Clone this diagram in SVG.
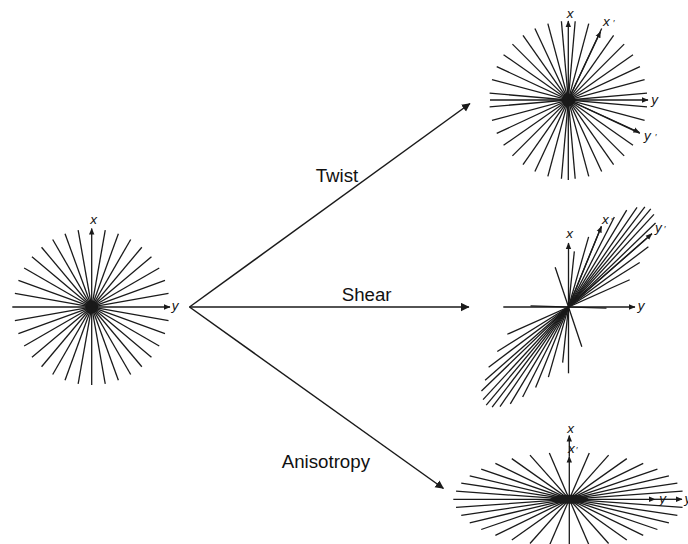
<svg xmlns="http://www.w3.org/2000/svg" width="688" height="544" viewBox="0 0 688 544">
<style>
.sp{stroke:#1a1a1a;stroke-width:1.3;fill:none}
.ax{stroke:#1a1a1a;stroke-width:1.3;fill:none;marker-end:url(#axh)}
.cn{stroke:#1a1a1a;stroke-width:1.5;fill:none;marker-end:url(#ch)}
.lbl{font-family:"Liberation Sans",Arial,sans-serif;font-size:18.7px;fill:#111}
.al{font-family:"Liberation Sans",Arial,sans-serif;font-size:13.5px;font-style:italic;fill:#111}
.dot{fill:#1a1a1a}
</style>
<defs>
<marker id="ch" markerUnits="userSpaceOnUse" markerWidth="9" markerHeight="9" viewBox="0 -4.5 9 9" refX="8" refY="0" orient="auto"><path d="M0,-4.2 L8.5,0 L0,4.2 z" fill="#1a1a1a"/></marker>
<marker id="axh" markerUnits="userSpaceOnUse" markerWidth="7" markerHeight="7" viewBox="0 -3.5 7 7" refX="6" refY="0" orient="auto"><path d="M0,-2.7 L6.5,0 L0,2.7 z" fill="#1a1a1a"/></marker>
<line id="s78" x1="-78" y1="0" x2="78" y2="0"/>
<line id="s79" x1="-79" y1="0" x2="79" y2="0"/>
</defs>

<g id="original">
<g class="sp" transform="translate(91.7,307)">
<use href="#s78" transform="rotate(10)"/><use href="#s78" transform="rotate(20)"/><use href="#s78" transform="rotate(30)"/><use href="#s78" transform="rotate(40)"/><use href="#s78" transform="rotate(50)"/><use href="#s78" transform="rotate(60)"/><use href="#s78" transform="rotate(70)"/><use href="#s78" transform="rotate(80)"/>
<use href="#s78" transform="rotate(100)"/><use href="#s78" transform="rotate(110)"/><use href="#s78" transform="rotate(120)"/><use href="#s78" transform="rotate(130)"/><use href="#s78" transform="rotate(140)"/><use href="#s78" transform="rotate(150)"/><use href="#s78" transform="rotate(160)"/><use href="#s78" transform="rotate(170)"/>
</g>
<circle class="dot" cx="91.7" cy="307" r="6.5"/>
<line class="ax" x1="91.7" y1="385" x2="91.7" y2="228.5"/>
<line class="ax" x1="12.3" y1="307" x2="170" y2="307"/>
<text class="al" x="93.5" y="224" text-anchor="middle">x</text>
<text class="al" x="175" y="309.5" text-anchor="middle">y</text>
</g>

<g id="twist">
<g class="sp" transform="translate(568.3,100)">
<use href="#s79" transform="rotate(5)"/><use href="#s79" transform="rotate(15)"/><use href="#s79" transform="rotate(25)"/><use href="#s79" transform="rotate(35)"/><use href="#s79" transform="rotate(45)"/><use href="#s79" transform="rotate(55)"/><use href="#s79" transform="rotate(65)"/><use href="#s79" transform="rotate(75)"/><use href="#s79" transform="rotate(85)"/>
<use href="#s79" transform="rotate(95)"/><use href="#s79" transform="rotate(105)"/><use href="#s79" transform="rotate(115)"/><use href="#s79" transform="rotate(125)"/><use href="#s79" transform="rotate(135)"/><use href="#s79" transform="rotate(145)"/><use href="#s79" transform="rotate(155)"/><use href="#s79" transform="rotate(165)"/><use href="#s79" transform="rotate(175)"/>
</g>
<circle class="dot" cx="568.3" cy="100" r="6.5"/>
<line class="ax" x1="568.3" y1="180" x2="568.3" y2="21"/>
<line class="ax" x1="490" y1="100" x2="648" y2="100"/>
<line class="ax" x1="568.3" y1="100" x2="600.5" y2="31.7"/>
<line class="ax" x1="568.3" y1="100" x2="639.5" y2="132.5"/>
<text class="al" x="570" y="18.3" text-anchor="middle">x</text>
<text class="al" x="603" y="26">x<tspan dx="3" font-size="9">′</tspan></text>
<text class="al" x="654.5" y="103.5" text-anchor="middle">y</text>
<text class="al" x="644" y="139.5">y<tspan dx="4" font-size="9">′</tspan></text>
</g>

<g id="shear">
<g class="sp">
<line x1="555.17" y1="267.17" x2="581.83" y2="346.83"/>
<line x1="574.35" y1="251.31" x2="562.65" y2="362.69"/>
<line x1="588.62" y1="236.83" x2="548.38" y2="377.17"/>
<line x1="601.37" y1="226.45" x2="535.63" y2="387.55"/>
<line x1="614.35" y1="217.01" x2="522.65" y2="396.99"/>
<line x1="626.7" y1="210.14" x2="510.3" y2="403.86"/>
<line x1="637.03" y1="207.28" x2="499.97" y2="406.72"/>
<line x1="644.86" y1="206.77" x2="492.14" y2="407.23"/>
<line x1="650.78" y1="208.95" x2="486.22" y2="405.05"/>
<line x1="653.95" y1="214.4" x2="483.05" y2="399.6"/>
<line x1="655.54" y1="222.94" x2="481.46" y2="391.06"/>
<line x1="651.89" y1="233.74" x2="485.11" y2="380.26"/>
<line x1="648.36" y1="246.82" x2="488.64" y2="367.18"/>
<line x1="639.73" y1="262.49" x2="497.27" y2="351.51"/>
<line x1="629.7" y1="279.75" x2="507.3" y2="334.25"/>
<line x1="606.48" y1="308.13" x2="530.52" y2="305.87"/>
</g>
<line class="ax" x1="568.5" y1="373.3" x2="568.5" y2="243"/>
<line class="ax" x1="503.3" y1="307" x2="635" y2="307"/>
<line class="ax" x1="568.5" y1="307" x2="601.4" y2="226.5"/>
<line class="ax" x1="568.5" y1="307" x2="651.9" y2="233.7"/>
<text class="al" x="569.7" y="238.3" text-anchor="middle">x</text>
<text class="al" x="602" y="224">x<tspan dx="2" font-size="9">′</tspan></text>
<text class="al" x="655" y="231.5">y<tspan dx="2" font-size="9">′</tspan></text>
<text class="al" x="641" y="309.5" text-anchor="middle">y</text>
</g>

<g id="anisotropy">
<g class="sp">
<line x1="456.05" y1="507.46" x2="682.55" y2="491.14"/>
<line x1="682.55" y1="507.46" x2="456.05" y2="491.14"/>
<line x1="461.23" y1="515.37" x2="677.37" y2="483.23"/>
<line x1="677.37" y1="515.37" x2="461.23" y2="483.23"/>
<line x1="469.71" y1="522.8" x2="668.89" y2="475.8"/>
<line x1="668.89" y1="522.8" x2="469.71" y2="475.8"/>
<line x1="481.21" y1="529.51" x2="657.39" y2="469.09"/>
<line x1="657.39" y1="529.51" x2="481.21" y2="469.09"/>
<line x1="495.38" y1="535.3" x2="643.22" y2="463.3"/>
<line x1="643.22" y1="535.3" x2="495.38" y2="463.3"/>
<line x1="511.8" y1="540" x2="626.8" y2="458.6"/>
<line x1="626.8" y1="540" x2="511.8" y2="458.6"/>
<line x1="529.97" y1="543.47" x2="608.63" y2="455.13"/>
<line x1="608.63" y1="543.47" x2="529.97" y2="455.13"/>
<line x1="549.34" y1="545.59" x2="589.26" y2="453.01"/>
<line x1="589.26" y1="545.59" x2="549.34" y2="453.01"/>
</g>
<ellipse class="dot" cx="569.3" cy="499.3" rx="19" ry="4.5"/>
<line class="ax" x1="569.3" y1="546" x2="569.3" y2="456.5"/>
<line class="ax" x1="569.3" y1="456.5" x2="569.3" y2="435.5"/>
<line class="ax" x1="453.3" y1="499.3" x2="655" y2="499.3"/>
<line class="ax" x1="655" y1="499.3" x2="682" y2="499.3"/>
<text class="al" x="570.5" y="432.5" text-anchor="middle">x</text>
<text class="al" x="568" y="453.3">x<tspan dx="1" font-size="9">′</tspan></text>
<text class="al" x="662.5" y="503" text-anchor="middle">y</text>
<text class="al" x="684.5" y="503">y<tspan dx="1" font-size="9">′</tspan></text>
</g>

<g id="connectors">
<line class="cn" x1="189.5" y1="307" x2="470" y2="103.5"/>
<line class="cn" x1="189.5" y1="307" x2="469" y2="307"/>
<line class="cn" x1="189.5" y1="307" x2="443.5" y2="488.5"/>
<text class="lbl" x="315.7" y="181.7">Twist</text>
<text class="lbl" x="341.7" y="300.5">Shear</text>
<text class="lbl" x="281.7" y="468.3">Anisotropy</text>
</g>
</svg>
